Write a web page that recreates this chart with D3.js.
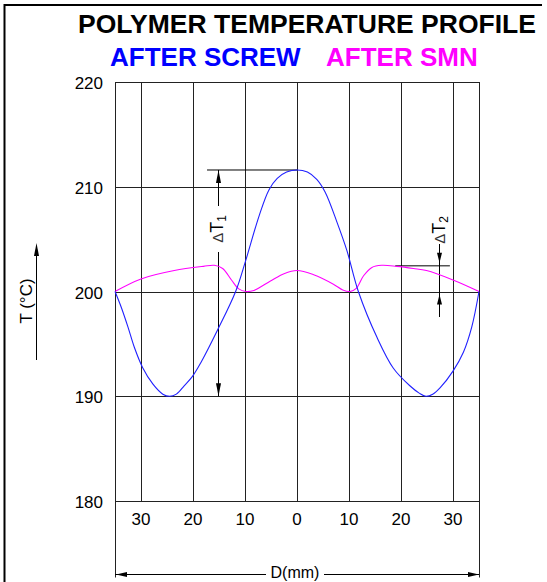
<!DOCTYPE html>
<html>
<head>
<meta charset="utf-8">
<script src="https://cdn.jsdelivr.net/npm/d3@7"></script>
<style>
  body { margin: 0; background: #fff; }
  text { font-family: "Liberation Sans", Arial, sans-serif; }
</style>
</head>
<body>
<div id="chart"></div>
<script>
// distance across the melt (mm) and temperature (°C)
var screwX = [-35, -33.8, -32.5, -31.3, -29.7, -27.7, -25.8, -24.5, -23.2, -21.7, -20.1, -18.5, -15.3, -11.8, -9.9, -7.3, -5.4, -3.8, -2, 0, 2, 3.8, 5.4, 7.7, 9.6, 11.8, 15.4, 18.5, 21.7, 23.5, 24.8, 26.1, 27.5, 30, 32, 33.6, 35];
var screwT = [200, 198.5, 196.6, 194.7, 192.75, 191.15, 190.2, 190, 190.2, 191.0, 191.9, 193.2, 196.3, 200, 202.9, 207.2, 209.7, 210.8, 211.4, 211.6, 211.4, 210.7, 209.5, 206.6, 203.9, 200, 195.6, 192.7, 191.0, 190.3, 190, 190.2, 190.8, 192.4, 194.2, 196.6, 200];

var smnX = [-35, -30, -23.6, -18, -15.9, -14.3, -12.6, -11.2, -9.8, -8.3, -5.1, -2.5, 0, 3.2, 7.0, 8.8, 10.2, 11.4, 12.8, 14.4, 16.3, 19.2, 22.4, 24.9, 30, 35];
var smnT = [200, 201.2, 202.0, 202.4, 202.5, 202.2, 201.1, 200.25, 200.0, 200.1, 201.0, 201.7, 202.0, 201.6, 200.7, 200.15, 200, 200.3, 201.5, 202.3, 202.5, 202.4, 202.2, 202.0, 201.1, 200];

var xTicks = [-30, -20, -10, 0, 10, 20, 30];
var yTicks = [180, 190, 200, 210, 220];

// delta T marks: [x of dimension line, low T, high T, x start of leader, x end of leader]
var dT1 = [-15.2, 190, 211.6, -17.3, 0];
var dT2 = [27.3, 200, 202.45, 18.9, 29.4];

var width = 547, height = 582;

var svg = d3.select("#chart")
    .append("svg")
    .attr("width", width)
    .attr("height", height);

var x = d3.scaleLinear().domain([-35, 35]).range([115, 479]);
var y = d3.scaleLinear().domain([180, 220]).range([501, 82]);

// outer frame (top and left only)
svg.append("path")
    .attr("d", "M4.5,582V5H542")
    .attr("fill", "none")
    .attr("stroke", "#000")
    .attr("stroke-width", 2);

// titles
svg.append("text")
    .attr("x", 307).attr("y", 33)
    .attr("text-anchor", "middle")
    .style("font-size", "26.5px").style("font-weight", "bold")
    .text("POLYMER TEMPERATURE PROFILE");

svg.append("text")
    .attr("x", 110).attr("y", 66)
    .style("font-size", "26px").style("font-weight", "bold")
    .attr("fill", "#0000ff")
    .text("AFTER SCREW");

svg.append("text")
    .attr("x", 326).attr("y", 66)
    .style("font-size", "26px").style("font-weight", "bold")
    .attr("fill", "#ff00ff")
    .text("AFTER SMN");

// grid
var grid = svg.append("g").attr("stroke", "#222").attr("stroke-width", 1);

grid.selectAll(".hline")
    .data(yTicks)
    .enter()
    .append("line")
    .attr("x1", x(-35)).attr("x2", x(35))
    .attr("y1", function (d) { return Math.round(y(d)) + 0.5; })
    .attr("y2", function (d) { return Math.round(y(d)) + 0.5; });

grid.selectAll(".vline")
    .data(xTicks)
    .enter()
    .append("line")
    .attr("x1", function (d) { return Math.round(x(d)) + 0.5; })
    .attr("x2", function (d) { return Math.round(x(d)) + 0.5; })
    .attr("y1", y(220)).attr("y2", y(180));

// plot sides run down to the D(mm) dimension line
var dimY = 574.5;
grid.selectAll(".side")
    .data([-35, 35])
    .enter()
    .append("line")
    .attr("x1", function (d) { return Math.round(x(d)) + 0.5; })
    .attr("x2", function (d) { return Math.round(x(d)) + 0.5; })
    .attr("y1", y(220)).attr("y2", dimY + 3);

// tick labels
svg.append("g")
    .selectAll("text")
    .data(yTicks)
    .enter()
    .append("text")
    .attr("x", 103)
    .attr("y", function (d) { return y(d) + 7; })
    .attr("text-anchor", "end")
    .style("font-size", "17px")
    .text(function (d) { return d; });

svg.append("g")
    .selectAll("text")
    .data(xTicks)
    .enter()
    .append("text")
    .attr("x", function (d) { return x(d); })
    .attr("y", 525)
    .attr("text-anchor", "middle")
    .style("font-size", "17px")
    .text(function (d) { return Math.abs(d); });

// arrowhead helper: tip at (tx,ty), pointing along (dx,dy)
function arrow(g, tx, ty, dx, dy, len, half) {
    var bx = tx - dx * len, by = ty - dy * len;
    var px = -dy * half, py = dx * half;
    g.append("path")
        .attr("d", "M" + tx + "," + ty + "L" + (bx + px) + "," + (by + py) + "L" + (bx - px) + "," + (by - py) + "Z")
        .attr("fill", "#000")
        .attr("stroke", "none");
}

var ann = svg.append("g").attr("stroke", "#000").attr("stroke-width", 1);

// D(mm) dimension line
ann.append("line").attr("x1", x(-35)).attr("x2", 266).attr("y1", dimY).attr("y2", dimY);
ann.append("line").attr("x1", 324).attr("x2", x(35)).attr("y1", dimY).attr("y2", dimY);
arrow(ann, x(-35) + 1, dimY, -1, 0, 11, 2.5);
arrow(ann, x(35), dimY, 1, 0, 11, 2.5);
svg.append("text")
    .attr("x", 295).attr("y", 577.5)
    .attr("text-anchor", "middle")
    .style("font-size", "16px")
    .text("D(mm)");

// T axis title with arrow
ann.append("line").attr("x1", 36.5).attr("x2", 36.5).attr("y1", 360).attr("y2", 250);
arrow(ann, 36.5, 243, 0, -1, 13, 2.5);
svg.append("text")
    .attr("transform", "translate(32,301) rotate(-90)")
    .attr("text-anchor", "middle")
    .style("font-size", "17px")
    .text("T (°C)");

// the two curves
var line = d3.line()
    .x(function (d) { return x(d[0]); })
    .y(function (d) { return y(d[1]); })
    .curve(d3.curveCatmullRom.alpha(0.5));

svg.append("path")
    .datum(d3.zip(smnX, smnT))
    .attr("d", line)
    .attr("fill", "none")
    .attr("stroke", "#ff00ff")
    .attr("stroke-width", 1.1);

svg.append("path")
    .datum(d3.zip(screwX, screwT))
    .attr("d", line)
    .attr("fill", "none")
    .attr("stroke", "#2020ff")
    .attr("stroke-width", 1.1);

// delta T1
var d1x = Math.round(x(dT1[0])) + 0.5;
ann.append("line").attr("x1", x(dT1[3])).attr("x2", x(dT1[4])).attr("y1", y(dT1[2])).attr("y2", y(dT1[2]));
ann.append("line").attr("x1", d1x).attr("x2", d1x).attr("y1", y(dT1[2])).attr("y2", 206);
ann.append("line").attr("x1", d1x).attr("x2", d1x).attr("y1", 252).attr("y2", y(dT1[1]));
arrow(ann, d1x, y(dT1[2]), 0, -1, 13, 2.5);
arrow(ann, d1x, y(dT1[1]), 0, 1, 13, 2.5);

// delta T2
var d2x = Math.round(x(dT2[0])) + 0.5;
ann.append("line").attr("x1", x(dT2[3])).attr("x2", x(dT2[4])).attr("y1", y(dT2[2])).attr("y2", y(dT2[2]));
ann.append("line").attr("x1", d2x).attr("x2", d2x).attr("y1", 244).attr("y2", 317);
arrow(ann, d2x, y(dT2[2]) - 3, 0, 1, 10, 2.5);
arrow(ann, d2x, y(dT2[1]) + 3, 0, -1, 10, 2.5);

function deltaLabel(cx, cy, sub) {
    var t = svg.append("text")
        .attr("transform", "translate(" + cx + "," + cy + ") rotate(-90)")
        .attr("text-anchor", "middle")
        .style("font-size", "18px");
    t.append("tspan").style("font-size", "15px").attr("fill", "#333").text("\u0394");
    t.append("tspan").text("T");
    t.append("tspan").style("font-size", "12px").attr("dy", 3).text(sub);
}
deltaLabel(223, 229, "1");
deltaLabel(445, 230, "2");
</script>
</body>
</html>
